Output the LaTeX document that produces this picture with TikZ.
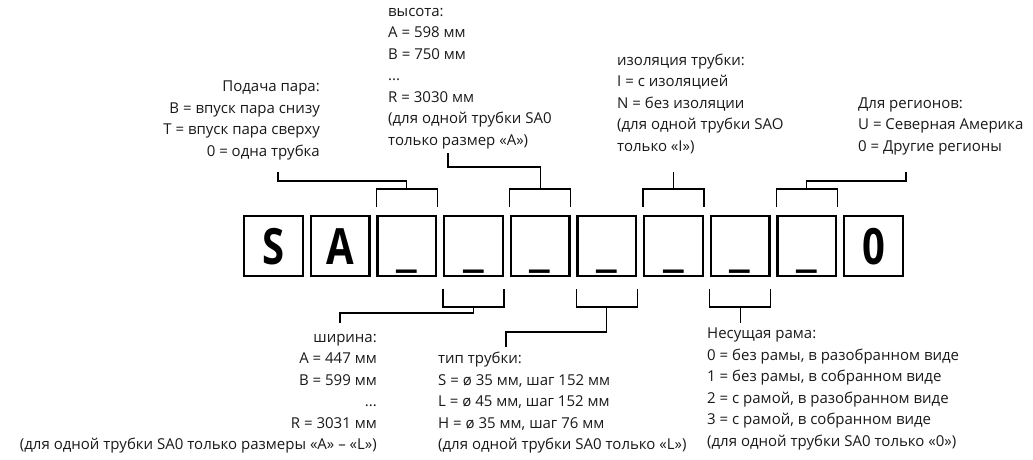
\documentclass[tikz,border=0pt]{standalone}
\usepackage{fontspec}
\usepackage{graphicx}
\setmainfont{Open Sans}
\newfontfamily\boxfont{Open Sans}
\usetikzlibrary{calc}
\newcommand\boxch[1]{\scalebox{0.8}[1]{#1}}
\newcommand\boxus{\raisebox{-1pt}{\_}}
\renewcommand\arraystretch{1}
\begin{document}
\begin{tikzpicture}[x=1pt,y=-1pt,
  box/.style={draw, line width=2.4pt, minimum width=58.6pt, minimum height=59.6pt,
    inner sep=0pt, text height=36pt, text depth=0pt,
    font=\boxfont\bfseries\fontsize{50}{50}\selectfont},
  conn/.style={line width=1.1pt},
  lbl/.style={inner sep=0pt, font=\fontsize{15}{21.5}\selectfont, text=black!90}]
\useasboundingbox (0,0) rectangle (1033,459);
% code boxes
\node[box] (b0) at (273.5,246) {\boxch{S}};
\node[box] (b1) at (340.17,246) {\boxch{A}};
\node[box] (b2) at (406.83,246) {\boxus};
\node[box] (b3) at (473.5,246) {\boxus};
\node[box] (b4) at (540.17,246) {\boxus};
\node[box] (b5) at (606.83,246) {\boxus};
\node[box] (b6) at (673.5,246) {\boxus};
\node[box] (b7) at (740.17,246) {\boxus};
\node[box] (b8) at (806.83,246) {\boxus};
\node[box] (b9) at (873.5,246) {\boxch{0}};
% labels
\node[lbl, anchor=base east] (tsteam) at (320,91.5) {\begin{tabular}[t]{@{}r@{}}Подача пара:\\B = впуск пара снизу\\T = впуск пара сверху\\0 = одна трубка\end{tabular}};
\node[lbl, anchor=base west] (theight) at (388,16) {\begin{tabular}[t]{@{}l@{}}высота:\\A = 598 мм\\B = 750 мм\\...\\R = 3030 мм\\(для одной трубки SA0\\только размер «A»)\end{tabular}};
\node[lbl, anchor=base west] (tinsul) at (617,65) {\begin{tabular}[t]{@{}l@{}}изоляция трубки:\\I = с изоляцией\\N = без изоляции\\(для одной трубки SAO\\только «I»)\end{tabular}};
\node[lbl, anchor=base west] (tregion) at (858,108) {\begin{tabular}[t]{@{}l@{}}Для регионов:\\U = Северная Америка\\0 = Другие регионы\end{tabular}};
\node[lbl, anchor=base east] (twidth) at (377,342) {\begin{tabular}[t]{@{}r@{}}ширина:\\A = 447 мм\\B = 599 мм\\...\\R = 3031 мм\\(для одной трубки SA0 только размеры «A» – «L»)\end{tabular}};
\node[lbl, anchor=base west] (ttube) at (438,363.5) {\begin{tabular}[t]{@{}l@{}}тип трубки:\\S = ø 35 мм, шаг 152 мм\\L = ø 45 мм, шаг 152 мм\\H = ø 35 мм, шаг 76 мм\\(для одной трубки SA0 только «L»)\end{tabular}};
\node[lbl, anchor=base west] (tframe) at (707,338.5) {\begin{tabular}[t]{@{}l@{}}Несущая рама:\\0 = без рамы, в разобранном виде\\1 = без рамы, в собранном виде\\2 = с рамой, в разобранном виде\\3 = с рамой, в собранном виде\\(для одной трубки SA0 только «0»)\end{tabular}};
% free ends of connectors
\coordinate (esteam) at (278,172);
\coordinate (eheight) at (448,153);
\coordinate (einsul) at (673.5,172);
\coordinate (eregion) at (906,172);
\coordinate (ewidth) at (340,323);
\coordinate (etube) at (506,347);
\coordinate (eframe) at (740.17,323);
% upper brackets
\foreach \b in {b2,b4,b6,b8}{
  \draw[conn] ($(\b.north west)+(0,-8)$) |- ($(\b.north)+(0,-26)$) -| ($(\b.north east)+(0,-8)$);
}
\draw[conn] ($(b2.north)+(0,-26)$) -- ++(0,-8) -| (esteam);
\draw[conn] ($(b4.north)+(0,-26)$) -- ++(0,-22) -| (eheight);
\draw[conn] ($(b6.north)+(0,-26)$) -- (einsul);
\draw[conn] ($(b8.north)+(0,-26)$) -- ++(0,-8) -| (eregion);
% lower brackets
\foreach \b in {b3,b5,b7}{
  \draw[conn] ($(\b.south west)+(0,12)$) |- ($(\b.south)+(0,30)$) -| ($(\b.south east)+(0,12)$);
}
\draw[conn] ($(b3.south)+(0,30)$) -- ++(0,6) -| (ewidth);
\draw[conn] ($(b5.south)+(0,30)$) -- ++(0,25) -| (etube);
\draw[conn] ($(b7.south)+(0,30)$) -- (eframe);
\end{tikzpicture}
\end{document}
